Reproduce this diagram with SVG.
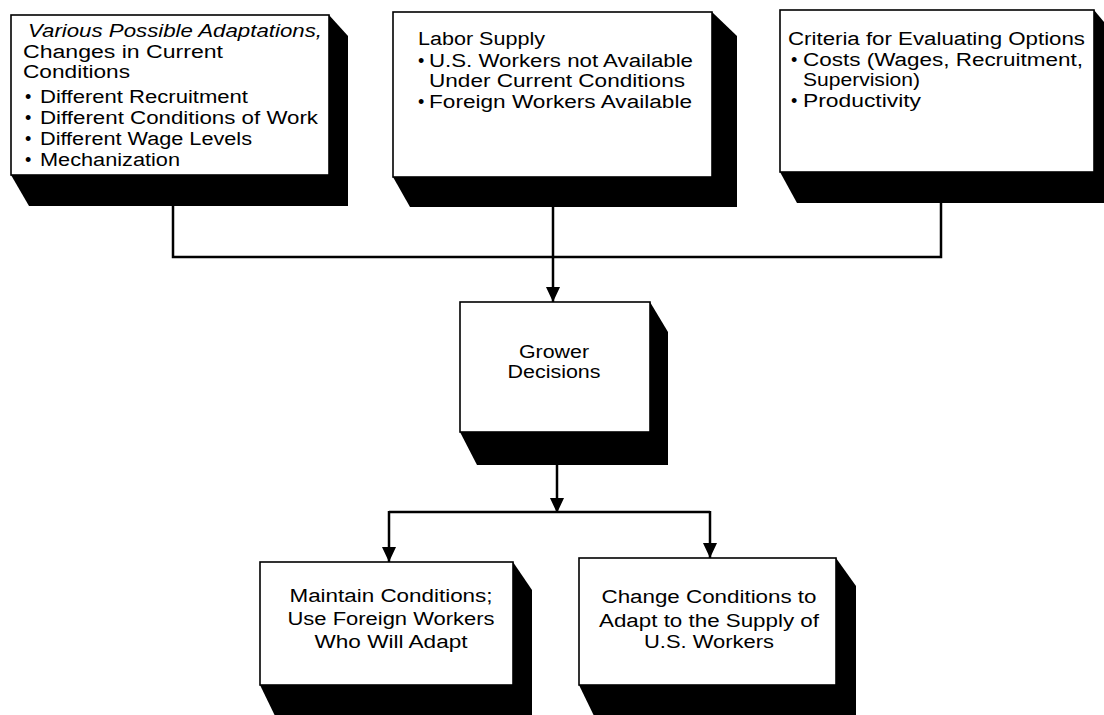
<svg xmlns="http://www.w3.org/2000/svg" width="1104" height="715" viewBox="0 0 1104 715">
<defs>
<style>
.face{fill:#fff;stroke:#000;stroke-width:1.6}
.shadow{fill:#000;stroke:none}
.t{font-family:"Liberation Sans",Arial,Helvetica,sans-serif;font-size:18px;fill:#000}
.i{font-style:italic}
.c{text-anchor:middle}
.line{fill:none;stroke:#000;stroke-width:2.5}
</style>
<marker id="ah" markerWidth="16" markerHeight="14" refX="15" refY="7" orient="auto" markerUnits="userSpaceOnUse">
<path d="M0,0 L15,7 L0,14 Z" fill="#000"/>
</marker>
</defs>
<rect width="1104" height="715" fill="#fff"/>

<g id="connectors">
<polyline class="line" points="173,205 173,257 941,257 941,202"/>
<line class="line" x1="553" y1="205" x2="553" y2="302" marker-end="url(#ah)"/>
<line class="line" x1="557" y1="464" x2="557" y2="513" marker-end="url(#ah)"/>
<polyline class="line" points="389,512 710,512"/>
<line class="line" x1="389" y1="511" x2="389" y2="562" marker-end="url(#ah)"/>
<line class="line" x1="710" y1="511" x2="710" y2="558" marker-end="url(#ah)"/>
</g>

<g id="node-adaptations">
<polygon class="shadow" points="329,15 348,36 348,206 29,206 11,175"/>
<rect class="face" x="11" y="15" width="318" height="160"/>
<text class="t i" x="28" y="37" textLength="294" lengthAdjust="spacingAndGlyphs">Various Possible Adaptations,</text>
<text class="t" x="23" y="58" textLength="200" lengthAdjust="spacingAndGlyphs">Changes in Current</text>
<text class="t" x="23" y="78" textLength="107" lengthAdjust="spacingAndGlyphs">Conditions</text>
<text class="t" x="25" y="103">•</text>
<text class="t" x="40" y="103" textLength="208" lengthAdjust="spacingAndGlyphs">Different Recruitment</text>
<text class="t" x="25" y="124">•</text>
<text class="t" x="40" y="124" textLength="278" lengthAdjust="spacingAndGlyphs">Different Conditions of Work</text>
<text class="t" x="25" y="145">•</text>
<text class="t" x="40" y="145" textLength="212" lengthAdjust="spacingAndGlyphs">Different Wage Levels</text>
<text class="t" x="25" y="166">•</text>
<text class="t" x="40" y="166" textLength="140" lengthAdjust="spacingAndGlyphs">Mechanization</text>
</g>

<g id="node-labor">
<polygon class="shadow" points="712,12 737,36 737,207 410,207 393,177"/>
<rect class="face" x="393" y="12" width="319" height="165"/>
<text class="t" x="418" y="45" textLength="127" lengthAdjust="spacingAndGlyphs">Labor Supply</text>
<text class="t" x="418" y="67">•</text>
<text class="t" x="429" y="67" textLength="264" lengthAdjust="spacingAndGlyphs">U.S. Workers not Available</text>
<text class="t" x="429" y="87" textLength="256" lengthAdjust="spacingAndGlyphs">Under Current Conditions</text>
<text class="t" x="418" y="108">•</text>
<text class="t" x="429" y="108" textLength="263" lengthAdjust="spacingAndGlyphs">Foreign Workers Available</text>
</g>

<g id="node-criteria">
<polygon class="shadow" points="1094,10 1104,22 1104,203 797,203 780,172"/>
<rect class="face" x="780" y="10" width="314" height="162"/>
<text class="t" x="788" y="45" textLength="297" lengthAdjust="spacingAndGlyphs">Criteria for Evaluating Options</text>
<text class="t" x="791" y="66">•</text>
<text class="t" x="803" y="66" textLength="280" lengthAdjust="spacingAndGlyphs">Costs (Wages, Recruitment,</text>
<text class="t" x="803" y="86" textLength="117" lengthAdjust="spacingAndGlyphs">Supervision)</text>
<text class="t" x="791" y="107">•</text>
<text class="t" x="803" y="107" textLength="118" lengthAdjust="spacingAndGlyphs">Productivity</text>
</g>

<g id="node-grower">
<polygon class="shadow" points="650,302 668,332 668,465 477,465 460,432"/>
<rect class="face" x="460" y="302" width="190" height="130"/>
<text class="t c" x="554" y="358" textLength="70" lengthAdjust="spacingAndGlyphs">Grower</text>
<text class="t c" x="554" y="378" textLength="93" lengthAdjust="spacingAndGlyphs">Decisions</text>
</g>

<g id="node-maintain">
<polygon class="shadow" points="513,562 532,590 532,720 277,720 260,685"/>
<rect class="face" x="260" y="562" width="253" height="123"/>
<text class="t c" x="391" y="602" textLength="203" lengthAdjust="spacingAndGlyphs">Maintain Conditions;</text>
<text class="t c" x="391" y="625" textLength="207" lengthAdjust="spacingAndGlyphs">Use Foreign Workers</text>
<text class="t c" x="391" y="648" textLength="153" lengthAdjust="spacingAndGlyphs">Who Will Adapt</text>
</g>

<g id="node-change">
<polygon class="shadow" points="836,558 856,586 856,720 596,720 579,685"/>
<rect class="face" x="579" y="558" width="257" height="127"/>
<text class="t c" x="709" y="603" textLength="215" lengthAdjust="spacingAndGlyphs">Change Conditions to</text>
<text class="t c" x="709" y="627" textLength="220" lengthAdjust="spacingAndGlyphs">Adapt to the Supply of</text>
<text class="t c" x="709" y="648" textLength="130" lengthAdjust="spacingAndGlyphs">U.S. Workers</text>
</g>
</svg>
